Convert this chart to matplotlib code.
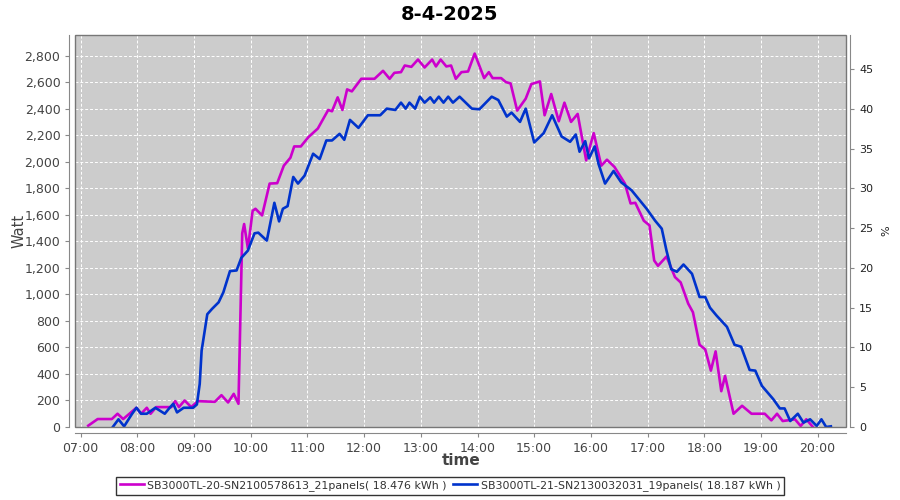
import numpy as np
import pandas as pd
import matplotlib
matplotlib.use("Agg")
import matplotlib.pyplot as plt
import matplotlib.dates as mdates
from matplotlib.patches import Rectangle

day = "2025-04-08"

# SB3000TL-20 (magenta)
t_20 = ["07:08", "07:18", "07:33", "07:39", "07:45", "07:59", "08:04", "08:10", "08:14",
        "08:20", "08:36", "08:40", "08:44", "08:50", "08:57", "09:04", "09:22", "09:29",
        "09:36", "09:42", "09:47", "09:51", "09:53", "09:57", "10:02", "10:05", "10:12",
        "10:20", "10:28", "10:35", "10:42", "10:46", "10:53", "11:01", "11:11", "11:22",
        "11:26", "11:32", "11:37", "11:42", "11:47", "11:57", "12:11", "12:20", "12:27",
        "12:32", "12:39", "12:43", "12:50", "12:57", "13:04", "13:12", "13:16", "13:21",
        "13:27", "13:32", "13:37", "13:43", "13:50", "13:57", "14:07", "14:12", "14:16",
        "14:25", "14:30", "14:35", "14:42", "14:46", "14:51", "14:57", "15:06", "15:11",
        "15:18", "15:26", "15:32", "15:39", "15:46", "15:55", "16:03", "16:11", "16:17",
        "16:25", "16:36", "16:42", "16:47", "16:56", "17:02", "17:07", "17:11", "17:20",
        "17:29", "17:35", "17:43", "17:48", "17:55", "18:01", "18:07", "18:12", "18:18",
        "18:22", "18:31", "18:40", "18:50", "19:04", "19:11", "19:17", "19:23", "19:36",
        "19:42", "19:48", "19:55"]
w_20 = [10, 60, 60, 100, 60, 145, 100, 145, 100,
        150, 150, 195, 150, 200, 150, 195, 190, 240,
        185, 250, 175, 1460, 1530, 1345, 1630, 1645, 1595,
        1835, 1838, 1970, 2030, 2115, 2115, 2185, 2250, 2390,
        2380, 2485, 2390, 2545, 2530, 2625, 2625, 2685, 2625,
        2670, 2675, 2725, 2715, 2770, 2710, 2770, 2718, 2770,
        2718, 2725, 2625, 2675, 2680, 2815, 2630, 2675, 2630,
        2630, 2600, 2590, 2385, 2425, 2475, 2585, 2605, 2350,
        2510, 2305, 2445, 2300, 2360, 2010, 2215, 1970, 2015,
        1960, 1835, 1685, 1690, 1555, 1520, 1255, 1215, 1285,
        1130, 1090, 930, 865, 620, 585, 425, 570, 270,
        385, 100, 160, 100, 100, 50, 100, 45, 58,
        8, 58, 0]

# SB3000TL-21 (blue)
t_21 = ["07:34", "07:40", "07:46", "07:54", "07:59", "08:04", "08:10", "08:19", "08:29",
        "08:33", "08:38", "08:42", "08:49", "08:59", "09:03", "09:06", "09:08", "09:14",
        "09:19", "09:26", "09:31", "09:38", "09:45", "09:50", "09:57", "10:04", "10:08",
        "10:17", "10:25", "10:30", "10:34", "10:39", "10:45", "10:50", "10:57", "11:06",
        "11:13", "11:20", "11:26", "11:34", "11:39", "11:45", "11:54", "12:04", "12:17",
        "12:24", "12:33", "12:39", "12:44", "12:48", "12:54", "12:59", "13:04", "13:10",
        "13:14", "13:19", "13:24", "13:29", "13:34", "13:41", "13:54", "14:02", "14:15",
        "14:22", "14:31", "14:36", "14:45", "14:51", "15:00", "15:10", "15:19", "15:29",
        "15:38", "15:44", "15:48", "15:54", "15:58", "16:04", "16:08", "16:15", "16:24",
        "16:32", "16:43", "16:59", "17:08", "17:15", "17:20", "17:25", "17:31", "17:38",
        "17:47", "17:55", "18:01", "18:06", "18:13", "18:24", "18:32", "18:39", "18:48",
        "18:54", "19:01", "19:13", "19:20", "19:25", "19:31", "19:39", "19:45", "19:52",
        "19:59", "20:04", "20:09", "20:14"]
w_21 = [0, 58, 5, 95, 145, 100, 100, 145, 100,
        135, 175, 110, 145, 145, 170, 325, 575, 850,
        890, 940, 1015, 1175, 1180, 1275, 1330, 1460, 1465,
        1405, 1690, 1550, 1645, 1665, 1885, 1835, 1895, 2060,
        2020, 2160, 2160, 2210, 2165, 2315, 2255, 2350, 2350,
        2400, 2390, 2445, 2400, 2445, 2400, 2490, 2445, 2485,
        2445, 2490, 2445, 2490, 2445, 2490, 2400, 2395, 2490,
        2465, 2340, 2370, 2300, 2400, 2145, 2215, 2350, 2190,
        2150, 2205, 2075, 2155, 2025, 2115, 1985, 1835, 1930,
        1845, 1785, 1645, 1555, 1495, 1330, 1190, 1170, 1225,
        1155, 980, 980, 900, 840, 755, 620, 605, 430,
        425, 310, 210, 140, 140, 45, 100, 33, 58,
        8, 58, 0, 5]

label_20 = "SB3000TL-20-SN2100578613_21panels( 18.476 kWh )"
label_21 = "SB3000TL-21-SN2130032031_19panels( 18.187 kWh )"

x20 = pd.to_datetime([f"{day} {t}" for t in t_20])
x21 = pd.to_datetime([f"{day} {t}" for t in t_21])

fig = plt.figure(figsize=(9, 5), dpi=100)
ax = fig.add_axes([75 / 900, 1 - 427 / 500, (846 - 75) / 900, (427 - 35) / 500])
ax.set_facecolor("#cccccc")

ax.plot(x20, w_20, color="#cc00cc", linewidth=1.9, label=label_20, zorder=3)
ax.plot(x21, w_21, color="#0033cc", linewidth=1.9, label=label_21, zorder=4)

ax.set_xlim(pd.Timestamp(f"{day} 06:54"), pd.Timestamp(f"{day} 20:30"))
ax.set_ylim(0, 2955)
ax.set_yticks(np.arange(0, 2801, 200))
ax.yaxis.set_major_formatter(matplotlib.ticker.FuncFormatter(lambda v, p: f"{int(v):,}"))
ax.xaxis.set_major_locator(mdates.HourLocator())
ax.xaxis.set_major_formatter(mdates.DateFormatter("%H:%M"))

ax.grid(True, color="white", linestyle=(0, (3, 2)), linewidth=0.7)
ax.set_axisbelow(True)

for s in ["top", "right"]:
    ax.spines[s].set_visible(False)
for s in ["left", "bottom"]:
    ax.spines[s].set_position(("outward", 4))
    ax.spines[s].set_color("#888888")
ax.tick_params(colors="#888888", labelcolor="#444444", labelsize=9, length=3, width=0.8)
ax.add_patch(Rectangle((0, 0), 1, 1, transform=ax.transAxes, fill=False,
                       edgecolor="#777777", linewidth=1.0, clip_on=False, zorder=5))

ax.set_ylabel("Watt", fontsize=10.5, color="#444444")
ax.yaxis.set_label_coords((27 - 75) / 771, 0.5)
ax.set_xlabel("time", fontsize=11, color="#444444", fontweight="bold")
ax.xaxis.set_label_coords((461 - 75) / 771, -(453 - 427) / 392)

ax2 = ax.twinx()
ax2.set_ylim(0, 49.3)
ax2.set_yticks(np.arange(0, 46, 5))
for s in ["top", "left", "bottom"]:
    ax2.spines[s].set_visible(False)
ax2.spines["right"].set_position(("outward", 3))
ax2.spines["right"].set_color("#888888")
ax2.tick_params(colors="#888888", labelcolor="#222222", labelsize=8, length=3, width=0.8)
ax2.set_ylabel("%", fontsize=8, color="#222222", labelpad=6)

fig.text(0.5, 1 - 14 / 500, "8-4-2025", ha="center", va="center",
         fontsize=14, fontweight="bold")

leg = fig.legend(loc="lower center", bbox_to_anchor=(0.5, 0.0), ncol=2,
                 fontsize=7.9, frameon=True, fancybox=False, edgecolor="black",
                 handlelength=2.2, handletextpad=0.3, columnspacing=0.6,
                 borderpad=0.3, labelcolor="#333333")
leg.get_frame().set_linewidth(1.0)

fig.savefig("out.png", dpi=100)
